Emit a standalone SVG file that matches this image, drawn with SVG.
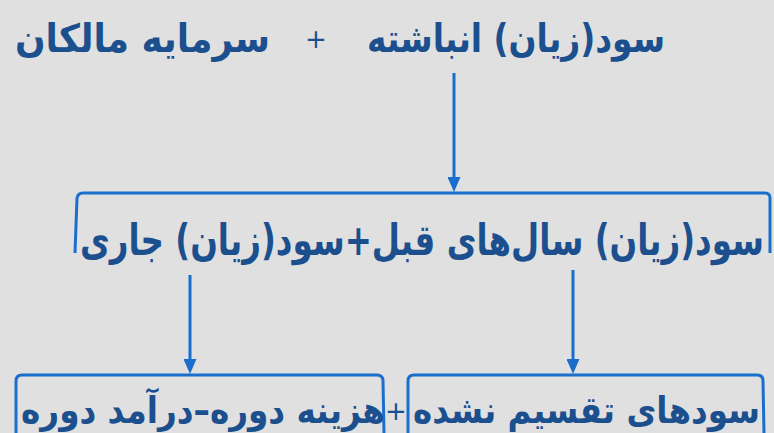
<svg xmlns="http://www.w3.org/2000/svg" width="774" height="433" viewBox="0 0 774 433">
<defs>
<style>
.t{font-family:"DejaVu Sans",sans-serif;font-weight:bold;fill:#1b4f8e;}
.p{font-family:"DejaVu Sans",sans-serif;fill:#1b4f8e;}
.ln{fill:none;stroke:#1a6fcc;stroke-width:3;}
.ar{fill:none;stroke:#1a6fcc;stroke-width:3;marker-end:url(#ah);}
</style>
<marker id="ah" viewBox="0 0 15 13" refX="7" refY="6.5" markerWidth="15" markerHeight="13" markerUnits="userSpaceOnUse" orient="auto">
<path d="M0,0 L15,6.5 L0,13 Z" fill="#1a6fcc"/>
</marker>
</defs>
<rect width="774" height="433" fill="#e0e0e0"/>
<g id="top">
<text class="t" x="665" y="52" font-size="39" direction="rtl" text-anchor="start" textLength="298" lengthAdjust="spacingAndGlyphs">سود(زیان) انباشته</text>
<text class="p" x="316" y="48" font-size="26" text-anchor="middle">+</text>
<text class="t" x="270" y="52" font-size="39" direction="rtl" text-anchor="start" textLength="255" lengthAdjust="spacingAndGlyphs">سرمایه مالکان</text>
</g>
<g id="middle">
<path class="ln" d="M75,253 L77,198 Q78,193 83,193 L765,193 Q770,193 770,198 L770,253"/>
<text class="t" x="764" y="255" font-size="43" direction="rtl" text-anchor="start" textLength="684" lengthAdjust="spacingAndGlyphs">سود(زیان) سال‌های قبل+سود(زیان) جاری</text>
</g>
<g id="left-box">
<path class="ln" d="M16,433 L16,381 Q16,375 22,375 L377,375 Q383,375 383,381 L384,433"/>
<text class="t" x="385" y="423" font-size="37" direction="rtl" text-anchor="start" textLength="364" lengthAdjust="spacingAndGlyphs">هزینه دوره–درآمد دوره</text>
</g>
<g id="plus">
<text class="p" x="396" y="420" font-size="26" text-anchor="middle">+</text>
</g>
<g id="right-box">
<path class="ln" d="M408,433 L408,381 Q408,375 414,375 L757,375 Q763,375 763,381 L764,433"/>
<text class="t" x="760" y="423" font-size="37" direction="rtl" text-anchor="start" textLength="347" lengthAdjust="spacingAndGlyphs">سودهای تقسیم نشده</text>
</g>
<g id="connectors">
<path class="ar" d="M454,73 L454,184"/>
<path class="ar" d="M190,275 L190,366"/>
<path class="ar" d="M573,270 L573,366"/>
</g>
</svg>
